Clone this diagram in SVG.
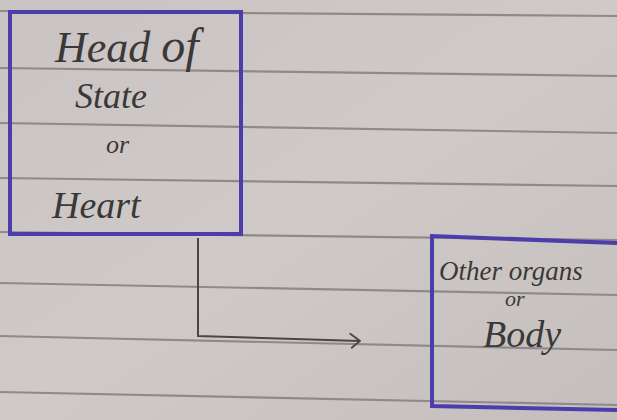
<svg xmlns="http://www.w3.org/2000/svg" width="617" height="420" viewBox="0 0 617 420">
<defs>
<linearGradient id="paper" x1="0" y1="0" x2="1" y2="1">
<stop offset="0" stop-color="#c9c4c3"/>
<stop offset="0.5" stop-color="#cfcac8"/>
<stop offset="1" stop-color="#c4bfbd"/>
</linearGradient>
<marker id="open" viewBox="0 0 12 16" refX="11" refY="8" markerWidth="12" markerHeight="16" markerUnits="userSpaceOnUse" orient="auto">
<path d="M1,1 L11,8 L3,15" fill="none" stroke="#4a4646" stroke-width="1.8" stroke-linecap="round"/>
</marker>
<style>
.rule{stroke:#8f8a89;stroke-width:2.2;fill:none}
.box{fill:none;stroke:#4b3eab;stroke-width:4}
.hand{font-family:"Liberation Serif",serif;font-style:italic;fill:#3b3838}
.conn{stroke:#4a4646;stroke-width:2;fill:none}
</style>
</defs>
<rect width="617" height="420" fill="url(#paper)"/>
<g id="rules">
<path class="rule" d="M0,11 L617,16"/>
<path class="rule" d="M0,68 L617,76"/>
<path class="rule" d="M0,123 L617,133"/>
<path class="rule" d="M0,178 L617,186"/>
<path class="rule" d="M0,232 L617,240"/>
<path class="rule" d="M0,283 L617,295"/>
<path class="rule" d="M0,336 L617,350"/>
<path class="rule" d="M0,392 L617,405"/>
</g>
<g id="connectors">
<path class="conn" d="M198,238 L198,336 L360,341" marker-end="url(#open)"/>
</g>
<g id="node-head">
<rect class="box" x="10" y="12" width="231" height="222"/>
<text class="hand" x="55" y="62" font-size="44">Head <tspan font-size="48">of</tspan></text>
<text class="hand" x="75" y="108" font-size="36">State</text>
<text class="hand" x="106" y="153" font-size="26">or</text>
<text class="hand" x="52" y="218" font-size="38">Heart</text>
</g>
<g id="node-body">
<path class="box" d="M617,243 L432,236 L432,406 L617,410"/>
<text class="hand" x="439" y="280" font-size="27">Other organs</text>
<text class="hand" x="505" y="306" font-size="22">or</text>
<text class="hand" x="483" y="347" font-size="38">Body</text>
</g>
</svg>
